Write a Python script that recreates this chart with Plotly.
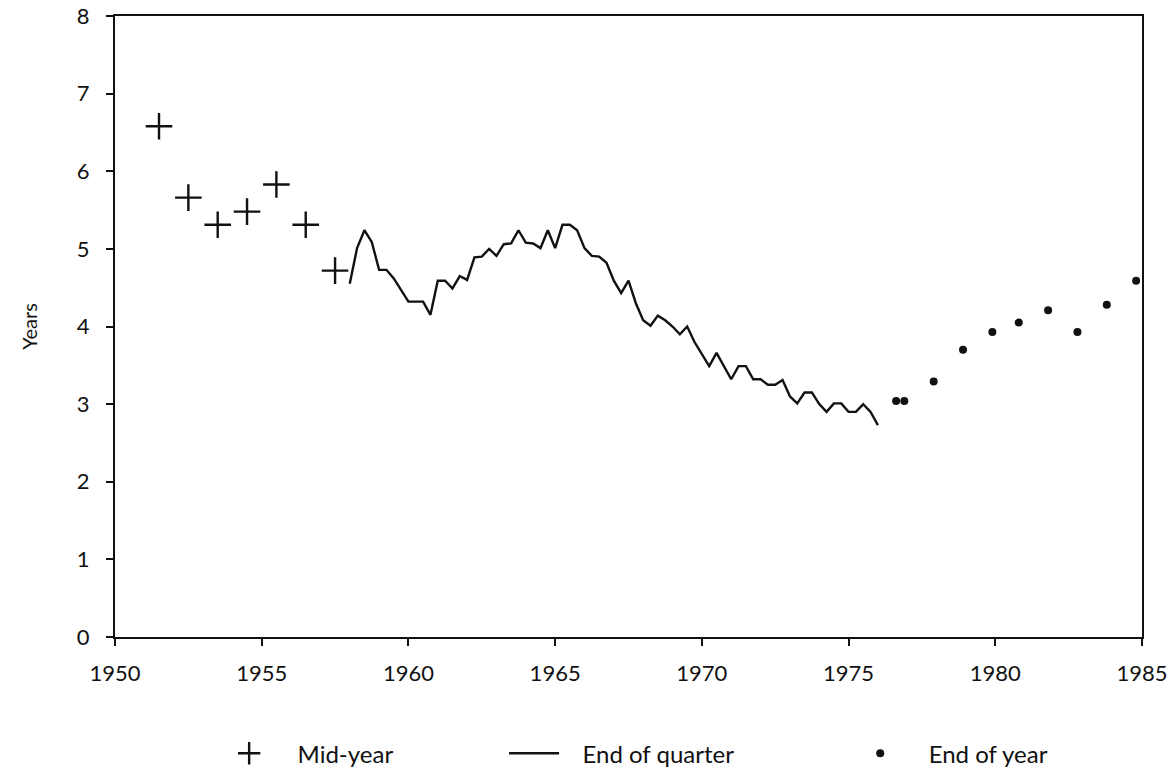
import plotly.graph_objects as go

# Mid-year observations (crosses)
mid_year_x = [1951.5, 1952.5, 1953.5, 1954.5, 1955.5, 1956.5, 1957.5]
mid_year_y = [6.58, 5.66, 5.31, 5.48, 5.83, 5.31, 4.72]

# End of quarter series, 1958Q1 .. 1976Q1
quarter_start = 1958.0
quarter_y = [
    4.55, 5.01, 5.24, 5.09, 4.73, 4.73, 4.62, 4.47, 4.32, 4.32,
    4.32, 4.15, 4.59, 4.59, 4.49, 4.65, 4.60, 4.89, 4.90, 5.00,
    4.91, 5.06, 5.07, 5.24, 5.08, 5.07, 5.01, 5.24, 5.01, 5.31,
    5.31, 5.24, 5.01, 4.91, 4.90, 4.82, 4.59, 4.43, 4.59, 4.30,
    4.08, 4.01, 4.14, 4.08, 4.00, 3.90, 4.00, 3.80, 3.65, 3.49,
    3.66, 3.48, 3.32, 3.49, 3.49, 3.32, 3.32, 3.25, 3.25, 3.31,
    3.10, 3.01, 3.15, 3.15, 3.00, 2.90, 3.01, 3.01, 2.90, 2.90,
    3.00, 2.90, 2.73,
]
quarter_x = [quarter_start + i / 4 for i in range(len(quarter_y))]

# End of year observations (dots)
end_year_x = [1976.62, 1976.9, 1977.9, 1978.9, 1979.9, 1980.8, 1981.8, 1982.8, 1983.8, 1984.8]
end_year_y = [3.04, 3.04, 3.29, 3.70, 3.93, 4.05, 4.21, 3.93, 4.28, 4.59]

x_ticks = [1950, 1955, 1960, 1965, 1970, 1975, 1980, 1985]
y_ticks = [0, 1, 2, 3, 4, 5, 6, 7, 8]

FONT = "Lato"
INK = "#111111"
PAD = "\u00a0"

fig = go.Figure()

fig.add_trace(
    go.Scatter(
        x=mid_year_x,
        y=mid_year_y,
        mode="markers",
        name=PAD * 3 + "Mid-year",
        marker=dict(symbol="cross-thin", size=19, line=dict(width=2.4, color=INK), color=INK),
        legend="legend",
    )
)

fig.add_trace(
    go.Scatter(
        x=quarter_x,
        y=quarter_y,
        mode="lines",
        name=PAD * 3 + "End of quarter",
        line=dict(color=INK, width=2.4),
        legend="legend2",
    )
)

fig.add_trace(
    go.Scatter(
        x=end_year_x,
        y=end_year_y,
        mode="markers",
        name=PAD * 3 + "End of year",
        marker=dict(symbol="circle", size=8, color=INK),
        legend="legend3",
    )
)

legend_common = dict(
    orientation="h",
    xref="container",
    yref="container",
    y=0.03,
    yanchor="middle",
    font=dict(family=FONT, size=24, color=INK),
    bgcolor="rgba(0,0,0,0)",
    itemwidth=50,
)

axis_common = dict(
    ticks="outside",
    ticklen=7,
    tickwidth=2,
    tickcolor=INK,
    showline=True,
    linecolor=INK,
    linewidth=2,
    mirror=True,
    showgrid=False,
    zeroline=False,
    automargin=False,
    tickfont=dict(family=FONT, size=22, color=INK),
)

fig.update_layout(
    width=1175,
    height=777,
    paper_bgcolor="white",
    plot_bgcolor="white",
    margin=dict(l=115, r=33, t=16, b=140),
    font=dict(family=FONT, size=20, color=INK),
    showlegend=True,
    legend=dict(legend_common, x=0.1865),
    legend2=dict(legend_common, x=0.429),
    legend3=dict(legend_common, x=0.7236),
    xaxis=dict(
        axis_common,
        range=[1950, 1985],
        tickvals=x_ticks,
        ticklabelstandoff=9,
    ),
    yaxis=dict(
        axis_common,
        range=[0, 8],
        tickvals=y_ticks,
        ticklabelstandoff=12,
        title=dict(text="Years", font=dict(family=FONT, size=20, color=INK), standoff=34),
    ),
)

fig.write_html(
    "out.html",
    config={"displayModeBar": False},
    post_script="document.body.style.margin='0';",
)
